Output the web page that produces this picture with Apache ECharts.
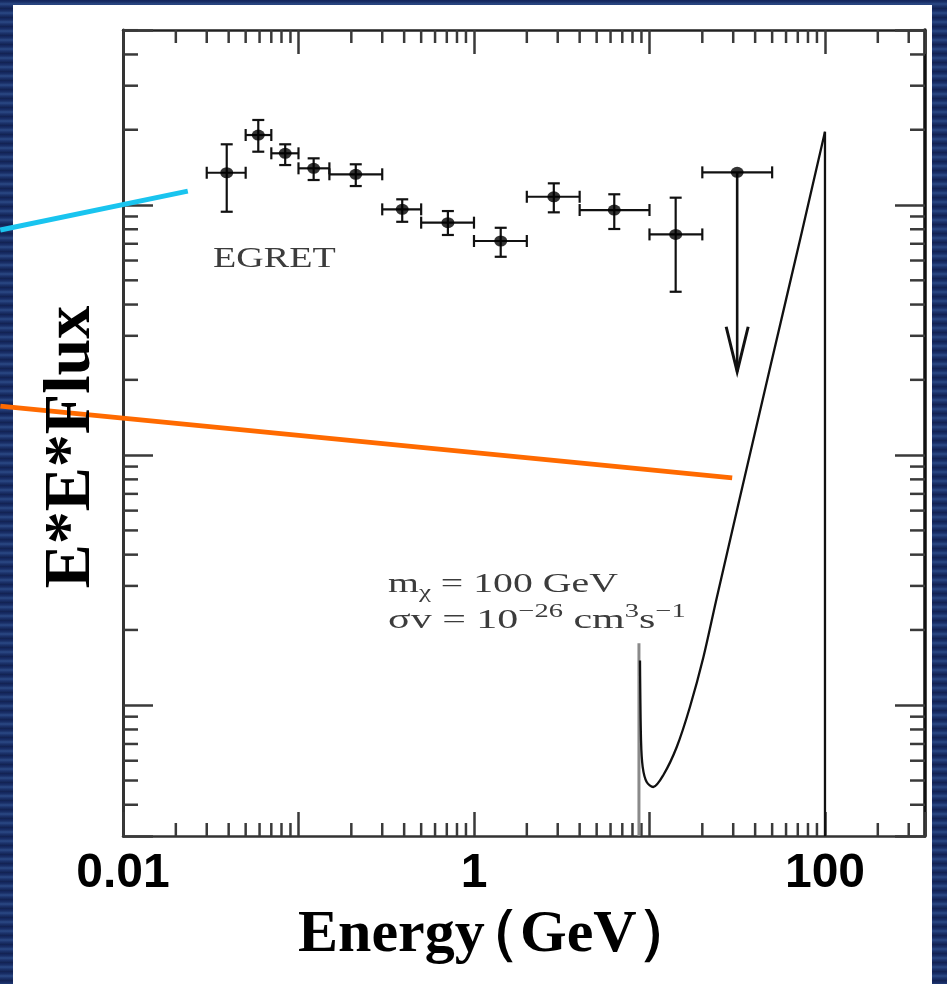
<!DOCTYPE html>
<html>
<head>
<meta charset="utf-8">
<script src="https://cdn.jsdelivr.net/npm/echarts@6/dist/echarts.min.js"></script>
<style>
  html, body {
    margin: 0; padding: 0; width: 947px; height: 984px; overflow: hidden;
    background: repeating-linear-gradient(180deg,
      #13245a 0px, #1a3068 2px, #2b4985 4px, #1c336c 6px, #11204f 9px);
  }
  #chart { width: 947px; height: 984px; }
</style>
</head>
<body>
<div id="chart"></div>
<script>
// ---- EGRET Galactic-centre spectrum (energy in GeV, E^2 x flux in relative units) ----
const binLow    = [0.03, 0.05, 0.07, 0.10, 0.15, 0.30, 0.50, 1.0, 2.0, 4.0, 10.0];
const binHigh   = [0.05, 0.07, 0.10, 0.15, 0.30, 0.50, 1.00, 2.0, 4.0, 10.0, 20.0];
const binCentre = [0.039, 0.059, 0.084, 0.122, 0.212, 0.39, 0.71, 1.42, 2.85, 6.3, 14.1];
const egretFlux = [1.346, 1.905, 1.610, 1.402, 1.327, 0.961, 0.850, 0.718, 1.079, 0.955, 0.763];
const egretLow  = [0.940, 1.634, 1.445, 1.259, 1.191, 0.857, 0.759, 0.621, 0.935, 0.802, 0.450];
const egretHigh = [1.749, 2.188, 1.749, 1.537, 1.455, 1.054, 0.946, 0.811, 1.221, 1.104, 1.070];

// Highest bin is an upper limit
const limitBin    = [20, 50];
const limitCentre = [31.6];
const limitFlux   = [1.351];
const limitArrowTo = [0.2155];

// Dark-matter line + continuum for m = 100 GeV
const modelEnergy = [8.83, 8.95, 9.15, 9.64, 10.5, 11.98, 14.3, 17.0, 20.3, 24.0, 32.5, 48.8, 73.5, 100];
const modelFlux   = [0.0151, 0.00724, 0.00566, 0.00493, 0.00471, 0.00525, 0.00681, 0.00984,
                     0.0156, 0.0263, 0.0661, 0.2255, 0.770, 1.965];
const cutoffEnergy = [100, 100];
const cutoffFlux   = [1.965, 0.003];
const thresholdEnergy = [8.71, 8.71];
const thresholdFlux   = [0.0177, 0.003];

// Pointer lines coming in from the slide margin
const cyanPointerE = [0.002, 0.0234];
const cyanPointerF = [0.794, 1.137];
const orangePointerE = [0.002, 29.6];
const orangePointerF = [0.157, 0.0811];

// Axis tick labels
const xTickLabels = ['0.01', '1', '100'];

const X_MIN = 0.01, X_MAX = 371.5;
const Y_MIN = 0.003, Y_MAX = 5.01;

const pairs = (a, b) => a.map((v, i) => [v, b[i]]);

function minorTicks(lo, hi, kFrom, kTo) {
  const out = [];
  for (let k = kFrom; k <= kTo; k++) {
    for (let m = 2; m <= 9; m++) {
      const v = m * Math.pow(10, k);
      if (v > lo * 1.0001 && v < hi * 0.9999) out.push(v);
    }
  }
  return out;
}
const xMinor = minorTicks(X_MIN, X_MAX, -2, 2);
const yMinor = minorTicks(Y_MIN, Y_MAX, -3, 0);

const tickColor = '#3a3a3a';
const ink = '#111';
const figText = '#3c3c3c';

function ln(x1, y1, x2, y2, w, c) {
  return { type: 'line', shape: { x1, y1, x2, y2 }, style: { stroke: c || ink, lineWidth: w || 2, fill: null } };
}

// Map a data point to pixels, extending the log scales linearly past the axis ends
function extendedCoord(api, e, f) {
  const a0 = api.coord([0.1, 0.01]);
  const a1 = api.coord([1, 0.1]);
  const x = a0[0] + (Math.log10(e) + 1) * (a1[0] - a0[0]);
  const y = a0[1] + (Math.log10(f) + 2) * (a1[1] - a0[1]);
  return [x, y];
}

function pointerSeries(es, fs, color) {
  return {
    type: 'custom', silent: true, clip: false, z: 8,
    data: [[es[0], fs[0], es[1], fs[1]]],
    encode: { x: [0, 2], y: [1, 3] },
    renderItem: (params, api) => {
      const p = extendedCoord(api, api.value(0), api.value(1));
      const q = extendedCoord(api, api.value(2), api.value(3));
      return { type: 'line', shape: { x1: p[0], y1: p[1], x2: q[0], y2: q[1] },
               style: { stroke: color, lineWidth: 5, fill: null } };
    }
  };
}

const serifFont = '"Liberation Serif", serif';

const chart = echarts.init(document.getElementById('chart'));

const option = {
  animation: false,
  backgroundColor: 'transparent',
  grid: { left: 123, top: 30, right: 22, bottom: 148, containLabel: false, outerBoundsMode: 'none' },
  graphic: [
    { type: 'rect', z: -100, silent: true,
      shape: { x: 13, y: 5, width: 919, height: 979 },
      style: { fill: '#ffffff' } },
    { type: 'text', z: 100, silent: true, x: 213, y: 259, scaleX: 1.27,
      style: { text: 'EGRET', fill: figText, font: '30px ' + serifFont,
               verticalAlign: 'middle', align: 'left' } },
    { type: 'text', z: 100, silent: true, x: 388, y: 567, scaleX: 1.42,
      style: {
        text: '{t|m}{sub|χ}{t| = 100 GeV}',
        fill: figText, align: 'left', verticalAlign: 'top',
        rich: {
          t:   { fontFamily: serifFont, fontSize: 28, lineHeight: 36, color: figText },
          sub: { fontFamily: serifFont, fontSize: 19, lineHeight: 16, verticalAlign: 'bottom', color: figText }
        }
      } },
    { type: 'text', z: 100, silent: true, x: 388, y: 603, scaleX: 1.5,
      style: {
        text: '{t|σv = 10}{sup|−26}{t| cm}{sup|3}{t|s}{sup|−1}',
        fill: figText, align: 'left', verticalAlign: 'top',
        rich: {
          t:   { fontFamily: serifFont, fontSize: 28, lineHeight: 36, color: figText },
          sup: { fontFamily: serifFont, fontSize: 19, lineHeight: 24, verticalAlign: 'top', color: figText }
        }
      } },
    { type: 'text', z: 100, silent: true, x: 298, y: 935,
      style: { text: 'Energy', fill: '#000',
               font: 'bold 60px "Liberation Serif", "Times New Roman", serif',
               align: 'left', verticalAlign: 'middle' } },
    { type: 'text', z: 100, silent: true, x: 460, y: 935,
      style: { text: '（GeV）', fill: '#000',
               font: 'bold 60px "Liberation Serif", "Times New Roman", serif',
               align: 'left', verticalAlign: 'middle' } },
    { type: 'text', z: 100, silent: true, x: 72, y: 447, rotation: Math.PI / 2,
      style: { text: 'E*E*Flux', fill: '#000',
               font: 'bold 66px "Liberation Serif", "Times New Roman", serif',
               align: 'center', verticalAlign: 'middle' } }
  ],
  xAxis: [
    {
      type: 'log', logBase: 10, min: X_MIN, max: X_MAX, position: 'bottom',
      axisLine: { show: true, lineStyle: { color: '#333', width: 2.5 } },
      axisTick: { show: true, inside: true, length: 24, lineStyle: { color: tickColor, width: 2.5 } },
      splitLine: { show: false },
      axisLabel: {
        show: true, margin: 14, color: '#000',
        fontFamily: '"Liberation Sans", Arial, sans-serif', fontWeight: 'bold', fontSize: 48,
        formatter: v => xTickLabels.find(l => Math.abs(Math.log10(+l) - Math.log10(v)) < 1e-6) || ''
      }
    },
    {
      type: 'log', logBase: 10, min: X_MIN, max: X_MAX, position: 'top',
      axisLine: { show: true, lineStyle: { color: '#222', width: 2.5 } },
      axisTick: { show: true, inside: true, length: 24, lineStyle: { color: tickColor, width: 2.5 } },
      splitLine: { show: false },
      axisLabel: { show: false }
    }
  ],
  yAxis: [
    {
      type: 'log', logBase: 10, min: Y_MIN, max: Y_MAX, position: 'left',
      axisLine: { show: true, lineStyle: { color: '#333', width: 3 } },
      axisTick: { show: true, inside: true, length: 30, lineStyle: { color: tickColor, width: 2.5 } },
      splitLine: { show: false },
      axisLabel: { show: false }
    },
    {
      type: 'log', logBase: 10, min: Y_MIN, max: Y_MAX, position: 'right',
      axisLine: { show: true, lineStyle: { color: '#111', width: 3.5 } },
      axisTick: { show: true, inside: true, length: 30, lineStyle: { color: tickColor, width: 2.5 } },
      splitLine: { show: false },
      axisLabel: { show: false }
    }
  ],
  series: [
    // minor ticks on the energy axes (bottom and top)
    {
      type: 'custom', silent: true, clip: false, z: 3,
      data: xMinor.map(v => [v, Y_MIN]),
      encode: { x: 0, y: 1 },
      renderItem: (params, api) => {
        const v = api.value(0);
        const b = api.coord([v, Y_MIN]);
        const t = api.coord([v, Y_MAX]);
        return { type: 'group', children: [
          ln(b[0], b[1], b[0], b[1] - 13, 2.5, tickColor),
          ln(t[0], t[1], t[0], t[1] + 13, 2.5, tickColor)
        ] };
      }
    },
    // minor ticks on the flux axes (left and right)
    {
      type: 'custom', silent: true, clip: false, z: 3,
      data: yMinor.map(v => [X_MIN, v]),
      encode: { x: 0, y: 1 },
      renderItem: (params, api) => {
        const v = api.value(1);
        const l = api.coord([X_MIN, v]);
        const r = api.coord([X_MAX, v]);
        return { type: 'group', children: [
          ln(l[0], l[1], l[0] + 15, l[1], 2.5, tickColor),
          ln(r[0], r[1], r[0] - 15, r[1], 2.5, tickColor)
        ] };
      }
    },
    // model: threshold edge, continuum and line at the WIMP mass
    {
      type: 'line', silent: true, symbol: 'none', z: 4,
      data: pairs(thresholdEnergy, thresholdFlux),
      lineStyle: { color: '#8a8a8a', width: 3 }
    },
    {
      type: 'line', silent: true, symbol: 'none', smooth: 0.3, z: 5,
      data: pairs(modelEnergy, modelFlux),
      lineStyle: { color: ink, width: 2.3 }
    },
    {
      type: 'line', silent: true, symbol: 'none', z: 5,
      data: pairs(cutoffEnergy, cutoffFlux),
      lineStyle: { color: ink, width: 2.3 }
    },
    // EGRET error bars
    {
      type: 'custom', silent: true, z: 6,
      data: binCentre.map((e, i) => [e, egretFlux[i], binLow[i], binHigh[i], egretLow[i], egretHigh[i]]),
      encode: { x: [0, 2, 3], y: [1, 4, 5] },
      renderItem: (params, api) => {
        const e = api.value(0), f = api.value(1);
        const pL = api.coord([api.value(2), f]);
        const pR = api.coord([api.value(3), f]);
        const pB = api.coord([e, api.value(4)]);
        const pT = api.coord([e, api.value(5)]);
        return { type: 'group', children: [
          ln(pL[0], pL[1], pR[0], pR[1], 2.2),
          ln(pL[0], pL[1] - 6, pL[0], pL[1] + 6, 2.2),
          ln(pR[0], pR[1] - 6, pR[0], pR[1] + 6, 2.2),
          ln(pB[0], pB[1], pT[0], pT[1], 2.2),
          ln(pT[0] - 6, pT[1], pT[0] + 6, pT[1], 2.2),
          ln(pB[0] - 6, pB[1], pB[0] + 6, pB[1], 2.2)
        ] };
      }
    },
    // upper limit in the highest bin
    {
      type: 'custom', silent: true, z: 6,
      data: limitCentre.map((e, i) => [e, limitFlux[i], limitBin[0], limitBin[1], limitArrowTo[i]]),
      encode: { x: [0, 2, 3], y: [1, 4] },
      renderItem: (params, api) => {
        const e = api.value(0), f = api.value(1);
        const c = api.coord([e, f]);
        const pL = api.coord([api.value(2), f]);
        const pR = api.coord([api.value(3), f]);
        const tip = api.coord([e, api.value(4)]);
        return { type: 'group', children: [
          ln(pL[0], pL[1], pR[0], pR[1], 2.2),
          ln(pL[0], pL[1] - 6, pL[0], pL[1] + 6, 2.2),
          ln(pR[0], pR[1] - 6, pR[0], pR[1] + 6, 2.2),
          ln(c[0], c[1], tip[0], tip[1], 2.6),
          { type: 'polyline', shape: { points: [[tip[0] - 11, tip[1] - 45], [tip[0], tip[1]], [tip[0] + 11, tip[1] - 45]] },
            style: { stroke: ink, lineWidth: 3, fill: null } }
        ] };
      }
    },
    // EGRET points
    {
      type: 'scatter', silent: true, z: 7,
      symbol: 'circle', symbolSize: [13, 11],
      itemStyle: { color: '#000' },
      data: pairs(binCentre, egretFlux).concat(pairs(limitCentre, limitFlux))
    },
    // pointer lines
    pointerSeries(cyanPointerE, cyanPointerF, '#19c4ef'),
    pointerSeries(orangePointerE, orangePointerF, '#ff6a00')
  ]
};

chart.setOption(option);
</script>
</body>
</html>
